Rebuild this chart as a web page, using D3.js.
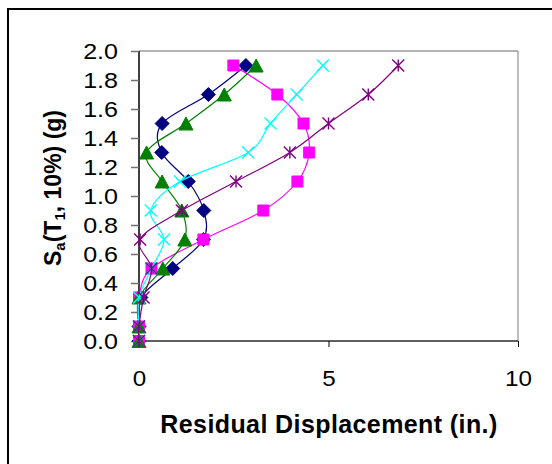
<!DOCTYPE html>
<html>
<head>
<meta charset="utf-8">
<script src="https://cdn.jsdelivr.net/npm/d3@7"></script>
<style>
html,body{margin:0;padding:0;background:#fff;}
svg{display:block;}
text{font-family:"Liberation Sans",Arial,sans-serif;fill:#000;}
</style>
</head>
<body>
<svg id="chart" width="552" height="464"></svg>
<script>
// Intensity levels (g)
const saLevels = [0, 0.1, 0.3, 0.5, 0.7, 0.9, 1.1, 1.3, 1.5, 1.7, 1.9];
// Residual displacement (in.) per series
const seriesNavy    = [0, 0, 0.05, 0.89, 1.70, 1.71, 1.30, 0.60, 0.61, 1.83, 2.82];
const seriesMagenta = [0, 0, 0, 0.33, 1.70, 3.28, 4.18, 4.49, 4.34, 3.65, 2.49];
const seriesGreen   = [0, 0, 0, 0.63, 1.21, 1.13, 0.61, 0.20, 1.24, 2.25, 3.09];
const seriesCyan    = [0, 0, 0, 0.33, 0.66, 0.31, 1.08, 2.88, 3.47, 4.16, 4.85];
const seriesPurple  = [0, 0, 0.12, 0.33, 0.03, 1.13, 2.56, 3.98, 5.00, 6.05, 6.84];
const xTicks = [0, 5, 10];
const yTicks = [0, 0.2, 0.4, 0.6, 0.8, 1.0, 1.2, 1.4, 1.6, 1.8, 2.0];

const series = [
  {values: seriesNavy,    color: "#000080", marker: "diamond"},
  {values: seriesMagenta, color: "#FF00FF", marker: "square"},
  {values: seriesGreen,   color: "#008000", marker: "triangle"},
  {values: seriesCyan,    color: "#00FFFF", marker: "x"},
  {values: seriesPurple,  color: "#800080", marker: "star"}
];

const svg = d3.select("#chart");
const x = d3.scaleLinear().domain([0, 10]).range([139, 518]);
const y = d3.scaleLinear().domain([0, 2]).range([341, 51]);

// outer frame
svg.append("rect").attr("x", 8).attr("y", 9).attr("width", 700).attr("height", 700)
  .attr("fill", "none").attr("stroke", "#000").attr("stroke-width", 2);

// plot border (top & right)
svg.append("line").attr("x1", x(0)).attr("x2", x(10)).attr("y1", y(2)).attr("y2", y(2))
  .attr("stroke", "#b4b4b4").attr("stroke-width", 2);
svg.append("line").attr("x1", x(10)).attr("x2", x(10)).attr("y1", y(2)).attr("y2", y(0))
  .attr("stroke", "#808080").attr("stroke-width", 1);

// x axis
const xAxis = svg.append("g").attr("transform", `translate(0,${y(0)})`)
  .call(d3.axisBottom(x).tickValues(xTicks).tickSize(6).tickFormat(d3.format("d")));
xAxis.select(".domain").attr("stroke", "#606060").attr("stroke-width", 2).attr("d", `M${x(0)},0H${x(10)}`);
xAxis.selectAll(".tick line").attr("stroke", "#000");
xAxis.selectAll(".tick text").attr("dy", null).attr("y", 0)
  .attr("transform", "translate(0,45) scale(1.1,1)")
  .style("font-size", "22px").style("font-family", "Liberation Sans, Arial, sans-serif")
  .attr("text-anchor", "middle");

// y axis
const yAxis = svg.append("g").attr("transform", `translate(${x(0)},0)`)
  .call(d3.axisLeft(y).tickValues(yTicks).tickSize(8).tickFormat(d3.format(".1f")));
yAxis.select(".domain").attr("stroke", "#000").attr("stroke-width", 1.5).attr("d", `M0,${y(0)}V${y(2)}`);
yAxis.selectAll(".tick line").attr("stroke", "#707070").attr("stroke-width", 1.5);
yAxis.selectAll(".tick text").attr("x", 0).attr("dy", "0.36em")
  .attr("transform", "translate(-21,0) scale(1.14,1)")
  .style("font-size", "22px").style("font-family", "Liberation Sans, Arial, sans-serif");

// axis titles
svg.append("text").attr("x", 329).attr("y", 433).attr("text-anchor", "middle")
  .style("font-size", "25px").style("font-weight", "bold").style("letter-spacing", "0.4px")
  .text("Residual Displacement (in.)");

const yt = svg.append("text").attr("transform", "translate(61,188) rotate(-90)")
  .attr("text-anchor", "middle").style("font-size", "23px").style("font-weight", "bold");
yt.append("tspan").text("S");
yt.append("tspan").attr("dy", 4).style("font-size", "15px").text("a");
yt.append("tspan").attr("dy", -4).text("(T");
yt.append("tspan").attr("dy", 4).style("font-size", "15px").text("1");
yt.append("tspan").attr("dy", -4).text(", 10%) (g)");

// markers
function markerPath(type) {
  const p = d3.path();
  if (type === "diamond") { const r = 7; p.moveTo(0,-r); p.lineTo(r,0); p.lineTo(0,r); p.lineTo(-r,0); p.closePath(); }
  if (type === "square") { const r = 5.5; p.rect(-r,-r,2*r,2*r); }
  if (type === "triangle") { const w = 7, h = 6.5; p.moveTo(0,-h); p.lineTo(w,h); p.lineTo(-w,h); p.closePath(); }
  if (type === "x") { const r = 6; p.moveTo(-r,-r); p.lineTo(r,r); p.moveTo(r,-r); p.lineTo(-r,r); }
  if (type === "star") { const r = 6; p.moveTo(-r,-r); p.lineTo(r,r); p.moveTo(r,-r); p.lineTo(-r,r); p.moveTo(0,-r); p.lineTo(0,r); }
  return p.toString();
}

const line = d3.line().x(d => x(d[0])).y(d => y(d[1])).curve(d3.curveCardinal.tension(0));

series.forEach(s => {
  const pts = s.values.map((v, i) => [v, saLevels[i]]);
  const g = svg.append("g");
  g.append("path").attr("d", line(pts)).attr("fill", "none")
    .attr("stroke", s.color).attr("stroke-width", 1.2);
  const filled = (s.marker === "diamond" || s.marker === "square" || s.marker === "triangle");
  g.selectAll("path.m").data(pts).enter().append("path").attr("class", "m")
    .attr("transform", d => `translate(${x(d[0])},${y(d[1])})`)
    .attr("d", markerPath(s.marker))
    .attr("fill", filled ? s.color : "none")
    .attr("stroke", s.color).attr("stroke-width", filled ? 1 : 1.4);
});
</script>
</body>
</html>
